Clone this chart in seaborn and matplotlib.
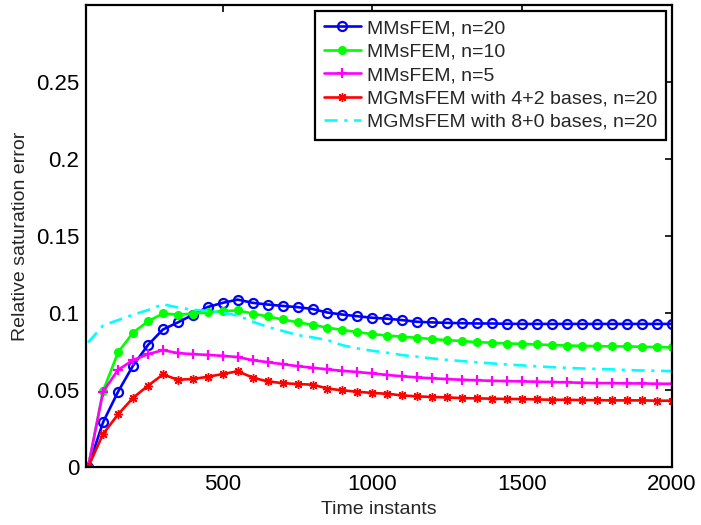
import numpy as np
import pandas as pd
import matplotlib
matplotlib.use("Agg")
import matplotlib.pyplot as plt
import seaborn as sns

# Time instants at which the saturation error was recorded
time_instants = np.arange(50, 2001, 50)

mmsfem_n20 = [0.0, 0.0292, 0.0490, 0.0659, 0.0793, 0.0894, 0.0940, 0.0989, 0.1040, 0.1067,
              0.1088, 0.1067, 0.1056, 0.1047, 0.1039, 0.1027, 0.1004, 0.0991, 0.0980, 0.0970,
              0.0964, 0.0955, 0.0944, 0.0940, 0.0937, 0.0935, 0.0933, 0.0933, 0.0931, 0.0930,
              0.0930, 0.0930, 0.0930, 0.0930, 0.0930, 0.0930, 0.0930, 0.0930, 0.0930, 0.0930]

mmsfem_n10 = [0.0, 0.0495, 0.0745, 0.0873, 0.0947, 0.0998, 0.0991, 0.0997, 0.1005, 0.1013,
              0.1018, 0.0997, 0.0979, 0.0959, 0.0941, 0.0924, 0.0906, 0.0891, 0.0877, 0.0864,
              0.0855, 0.0847, 0.0840, 0.0832, 0.0825, 0.0819, 0.0812, 0.0808, 0.0803, 0.0801,
              0.0797, 0.0793, 0.0790, 0.0788, 0.0786, 0.0784, 0.0784, 0.0782, 0.0780, 0.0778]

mmsfem_n5 = [0.0, 0.0490, 0.0632, 0.0695, 0.0734, 0.0760, 0.0741, 0.0734, 0.0729, 0.0723,
             0.0715, 0.0695, 0.0682, 0.0669, 0.0656, 0.0646, 0.0635, 0.0626, 0.0618, 0.0609,
             0.0599, 0.0590, 0.0583, 0.0577, 0.0572, 0.0568, 0.0564, 0.0561, 0.0559, 0.0557,
             0.0555, 0.0553, 0.0551, 0.0548, 0.0546, 0.0546, 0.0544, 0.0544, 0.0542, 0.0542]

mgmsfem_4p2 = [0.0, 0.0216, 0.0343, 0.0450, 0.0529, 0.0602, 0.0568, 0.0573, 0.0587, 0.0605,
               0.0623, 0.0582, 0.0557, 0.0546, 0.0540, 0.0536, 0.0511, 0.0499, 0.0490, 0.0482,
               0.0477, 0.0466, 0.0460, 0.0456, 0.0453, 0.0449, 0.0447, 0.0445, 0.0443, 0.0443,
               0.0440, 0.0438, 0.0438, 0.0436, 0.0436, 0.0434, 0.0434, 0.0434, 0.0432, 0.0432]

mgmsfem_8p0 = [0.0810, 0.0920, 0.0955, 0.0990, 0.1020, 0.1058, 0.1037, 0.1022, 0.1015, 0.1003,
               0.0985, 0.0945, 0.0911, 0.0885, 0.0858, 0.0843, 0.0825, 0.0792, 0.0771, 0.0756,
               0.0743, 0.0728, 0.0717, 0.0706, 0.0697, 0.0689, 0.0681, 0.0674, 0.0667, 0.0661,
               0.0655, 0.0650, 0.0645, 0.0641, 0.0638, 0.0635, 0.0631, 0.0628, 0.0626, 0.0624]

series_labels = ["MMsFEM, n=20", "MMsFEM, n=10", "MMsFEM, n=5",
                 "MGMsFEM with 4+2 bases, n=20", "MGMsFEM with 8+0 bases, n=20"]
x_ticks = [500, 1000, 1500, 2000]
y_ticks = [0, 0.05, 0.1, 0.15, 0.2, 0.25]
y_tick_labels = ["0", "0.05", "0.1", "0.15", "0.2", "0.25"]

sns.set_style("white")
plt.rcParams["font.family"] = ["Liberation Sans", "DejaVu Sans"]

fig = plt.figure(figsize=(7.01, 5.25), dpi=100)
ax = fig.add_axes([0.1227, 0.110, 0.8353, 0.8805])

# MATLAB-style '*' marker: plus and cross overlaid (8-armed asterisk)
asterisk = (8, 2, 0)

styles = [
    dict(color=(0, 0, 1), marker="o", markersize=6.5, markerfacecolor="none",
         markeredgecolor=(0, 0, 1), markeredgewidth=1.6, linestyle="-"),
    dict(color=(0, 1, 0), marker="o", markersize=5.5, markerfacecolor=(0, 1, 0),
         markeredgecolor=(0, 1, 0), markeredgewidth=1.0, linestyle="-"),
    dict(color=(1, 0, 1), marker="+", markersize=7, markerfacecolor=(1, 0, 1),
         markeredgecolor=(1, 0, 1), markeredgewidth=1.6, linestyle="-"),
    dict(color=(1, 0, 0), marker=asterisk, markersize=6.5, markerfacecolor=(1, 0, 0),
         markeredgecolor=(1, 0, 0), markeredgewidth=1.0, linestyle="-"),
    dict(color=(0, 1, 1), marker=None, linestyle=(0, (5, 2.5, 1.2, 2.5))),
]

all_series = [mmsfem_n20, mmsfem_n10, mmsfem_n5, mgmsfem_4p2, mgmsfem_8p0]
for values, label, st in zip(all_series, series_labels, styles):
    sns.lineplot(x=time_instants, y=values, ax=ax, label=label, linewidth=1.9,
                 sort=False, **st)

ax.set_xlim(43, 2000)
ax.set_ylim(0, 0.3)
ax.set_xticks(x_ticks)
ax.set_xticklabels([str(t) for t in x_ticks])
ax.set_yticks(y_ticks)
ax.set_yticklabels(y_tick_labels)
ax.tick_params(direction="in", top=True, right=True, length=5, width=1.2,
               labelsize=16, pad=5, colors="black")

for spine in ax.spines.values():
    spine.set_visible(True)
    spine.set_color("black")
    spine.set_linewidth(1.6)

ax.set_xlabel("Time instants", fontsize=14, labelpad=4)
ax.set_ylabel("Relative saturation error", fontsize=14, labelpad=5)

leg = ax.legend(loc="upper right", fontsize=14, handlelength=1.9, handletextpad=0.3,
                labelspacing=0.3, borderpad=0.45, borderaxespad=0.3,
                frameon=True, fancybox=False, framealpha=1)
leg.get_frame().set_edgecolor("black")
leg.get_frame().set_linewidth(1.6)

fig.savefig("out.png", dpi=100)
